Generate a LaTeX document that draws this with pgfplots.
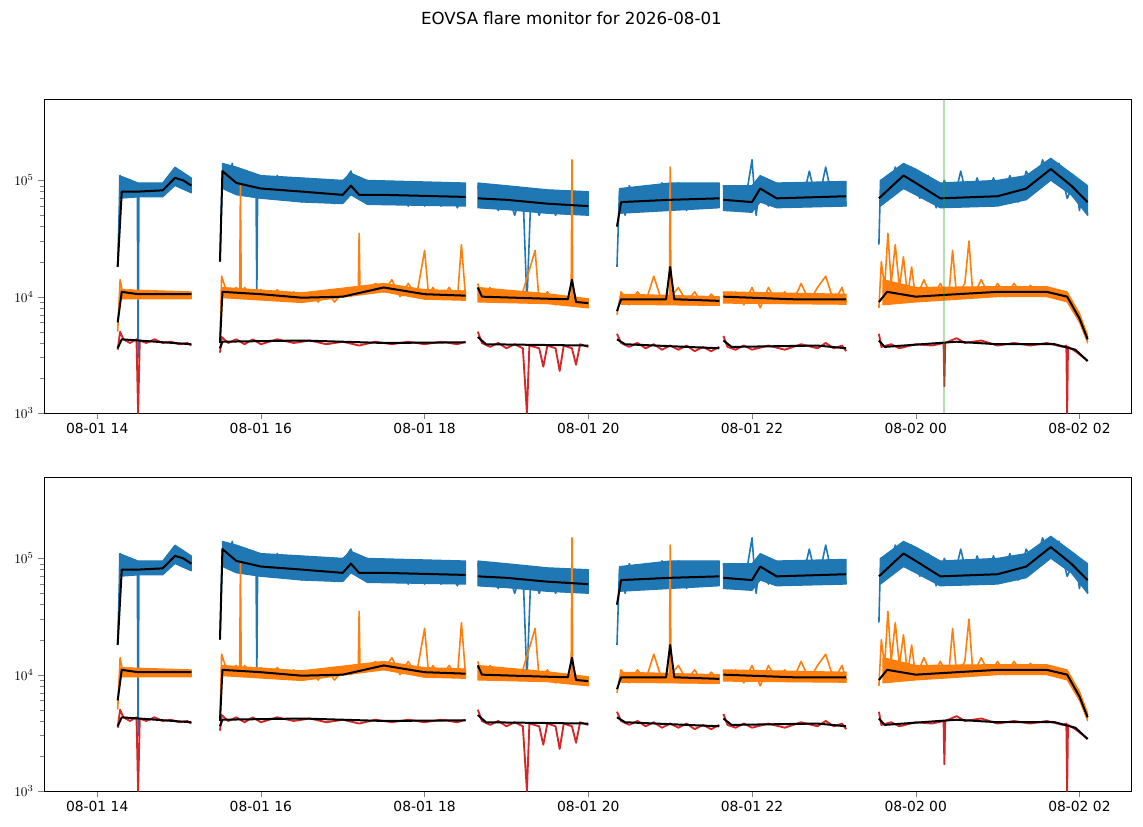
\documentclass[border=0pt]{standalone}
\usepackage{pgfplots}
\pgfplotsset{compat=1.18}
\usepackage{pgfplotstable}
\usepackage{fontspec}
\setmainfont{DejaVu Sans}
\definecolor{cA}{HTML}{1F77B4}
\definecolor{cB}{HTML}{FF7F0E}
\definecolor{cD}{HTML}{D62728}
\definecolor{cG}{HTML}{2CA02C}
\pgfplotstableread[row sep=\\]{x y\\
14.25 1.8e4\\ 14.28 1.1e5\\ 14.3 8e4\\ 14.35 9e4\\ 14.4 7.5e4\\ 14.45 8.8e4\\ 14.49 7.8e4\\ 14.5 3e3\\ 14.51 8e4\\ 14.55 9e4\\ 14.6 7.5e4\\ 14.65 8.5e4\\ 14.7 7.6e4\\ 14.75 8.6e4\\ 14.8 7.8e4\\ 14.85 9e4\\ 14.9 9e4\\ 14.95 1.25e5\\ 15.0 1e5\\ 15.05 1.15e5\\ 15.1 8.5e4\\ 15.15 9.5e4\\ 15.2 nan\\
15.5 2e4\\ 15.53 1.2e5\\ 15.6 9e4\\ 15.65 1.4e5\\ 15.7 8.5e4\\ 15.75 1.2e5\\ 15.8 8e4\\ 15.85 1.1e5\\ 15.9 7.5e4\\ 15.94 9e4\\ 15.95 1e4\\ 15.96 8e4\\ 16.0 1.05e5\\ 16.1 7e4\\ 16.2 1.1e5\\ 16.3 6.8e4\\ 16.4 1.05e5\\ 16.5 6.5e4\\ 16.6 1e5\\ 16.7 6.5e4\\ 16.8 1e5\\ 16.9 6.3e4\\ 17.0 9.5e4\\ 17.1 1.2e5\\ 17.2 7e4\\ 17.3 1e5\\ 17.4 6.3e4\\ 17.5 9.5e4\\ 17.6 6.2e4\\ 17.7 9.5e4\\ 17.8 6e4\\ 17.9 9.5e4\\ 18.0 6e4\\ 18.1 9.3e4\\ 18.2 6e4\\ 18.3 9e4\\ 18.4 5.8e4\\ 18.5 9e4\\ 18.55 nan\\
18.65 9e4\\ 18.7 5.8e4\\ 18.8 9e4\\ 18.9 5.5e4\\ 19.0 8.5e4\\ 19.1 5e4\\ 19.2 8.5e4\\ 19.25 9e3\\ 19.3 8e4\\ 19.4 5e4\\ 19.5 8e4\\ 19.6 5e4\\ 19.7 8e4\\ 19.8 5.3e4\\ 19.9 8e4\\ 20.0 5e4\\ 20.05 nan\\
20.35 1.8e4\\ 20.38 8e4\\ 20.45 5e4\\ 20.5 9e4\\ 20.6 5.5e4\\ 20.7 9e4\\ 20.8 5.5e4\\ 20.9 9.5e4\\ 21.0 5.5e4\\ 21.1 9.5e4\\ 21.2 5.5e4\\ 21.3 9e4\\ 21.4 5.8e4\\ 21.5 9e4\\ 21.6 6e4\\ 21.62 nan\\
21.65 9e4\\ 21.7 5.5e4\\ 21.8 9e4\\ 21.9 5.5e4\\ 22.0 1.5e5\\ 22.05 5e4\\ 22.1 9.5e4\\ 22.2 6e4\\ 22.3 9e4\\ 22.4 6e4\\ 22.5 9.5e4\\ 22.6 6e4\\ 22.7 1.2e5\\ 22.8 6e4\\ 22.9 1.3e5\\ 23.0 6e4\\ 23.1 9.5e4\\ 23.15 6e4\\ 23.2 nan\\
23.55 2.8e4\\ 23.57 1e5\\ 23.65 7e4\\ 23.75 1.3e5\\ 23.85 8.5e4\\ 23.95 1.3e5\\ 24.05 7e4\\ 24.15 1.1e5\\ 24.25 5.8e4\\ 24.35 1e5\\ 24.45 6e4\\ 24.55 1.2e5\\ 24.65 6e4\\ 24.75 1.05e5\\ 24.85 6.2e4\\ 24.95 1.05e5\\ 25.05 6.5e4\\ 25.15 1.1e5\\ 25.25 6.5e4\\ 25.35 1.2e5\\ 25.45 8.5e4\\ 25.55 1.5e5\\ 25.65 1e5\\ 25.75 1.4e5\\ 25.85 7e4\\ 25.95 1e5\\ 26.0 5.5e4\\ 26.05 9e4\\ 26.1 5e4\\
}\blue
\pgfplotstableread[row sep=\\]{x y\\
14.27 1.1e5\\ 14.5 9.5e4\\ 14.8 9.5e4\\ 14.95 1.3e5\\ 15.15 1.05e5\\ 15.15 7.8e4\\ 14.95 9e4\\ 14.8 7.2e4\\ 14.5 7.2e4\\ 14.27 7e4\\ 14.27 1.1e5\\ 14.28 nan\\
15.53 1.4e5\\ 15.7 1.3e5\\ 16.0 1.1e5\\ 16.5 1.05e5\\ 17.0 1e5\\ 17.1 1.15e5\\ 17.3 1e5\\ 18.5 9.5e4\\ 18.5 6e4\\ 17.3 6.2e4\\ 17.1 7.5e4\\ 17.0 6.3e4\\ 16.5 6.5e4\\ 16.0 7e4\\ 15.7 7.5e4\\ 15.53 8.5e4\\ 15.53 1.4e5\\ 15.54 nan\\
18.65 9.5e4\\ 19.0 9e4\\ 19.5 8.3e4\\ 20.0 8e4\\ 20.0 5e4\\ 19.5 5.2e4\\ 19.0 5.6e4\\ 18.65 5.8e4\\ 18.65 9.5e4\\ 18.66 nan\\
20.38 8.5e4\\ 21.0 9.5e4\\ 21.6 9.5e4\\ 21.6 5.8e4\\ 21.0 5.5e4\\ 20.38 5.2e4\\ 20.38 8.5e4\\ 20.39 nan\\
21.65 9e4\\ 22.0 9e4\\ 22.1 1.1e5\\ 22.3 9.5e4\\ 23.15 9.8e4\\ 23.15 6e4\\ 22.3 5.8e4\\ 22.1 6.5e4\\ 22.0 5.3e4\\ 21.65 5.5e4\\ 21.65 9e4\\ 21.66 nan\\
23.57 1e5\\ 23.85 1.4e5\\ 24.0 1.25e5\\ 24.3 9.5e4\\ 25.0 1e5\\ 25.35 1.1e5\\ 25.65 1.55e5\\ 25.9 1.15e5\\ 26.1 9e4\\ 26.1 5e4\\ 25.9 7.5e4\\ 25.65 1e5\\ 25.35 6.8e4\\ 25.0 6e4\\ 24.3 5.8e4\\ 24.0 7.5e4\\ 23.85 8.5e4\\ 23.57 6e4\\ 23.57 1e5\\
}\bband
\pgfplotstableread[row sep=\\]{x y\\
14.25 1.8e4\\ 14.3 8e4\\ 14.5 8e4\\ 14.8 8.2e4\\ 14.95 1.05e5\\ 15.05 1e5\\ 15.15 9e4\\ 15.2 nan\\ 15.5 2e4\\ 15.53 1.2e5\\ 15.7 9.5e4\\ 16.0 8.5e4\\ 16.5 8e4\\ 17.0 7.5e4\\ 17.1 9e4\\ 17.2 7.5e4\\ 17.5 7.5e4\\ 18.5 7.2e4\\ 18.55 nan\\ 18.65 7e4\\ 19.0 6.8e4\\ 19.5 6.3e4\\ 20.0 6e4\\ 20.05 nan\\ 20.35 4e4\\ 20.4 6.5e4\\ 21.0 6.8e4\\ 21.6 7e4\\ 21.62 nan\\ 21.65 6.8e4\\ 22.0 6.5e4\\ 22.1 8.5e4\\ 22.3 7e4\\ 23.15 7.3e4\\ 23.2 nan\\ 23.55 7e4\\ 23.85 1.1e5\\ 24.0 9.5e4\\ 24.3 7e4\\ 25.0 7.3e4\\ 25.35 8.5e4\\ 25.65 1.25e5\\ 25.9 9e4\\ 26.1 6.5e4\\
}\kblue
\pgfplotstableread[row sep=\\]{x y\\
14.25 5e3\\ 14.28 1.4e4\\ 14.32 1e4\\ 14.4 1.15e4\\ 14.5 9.5e3\\ 14.6 1.1e4\\ 14.7 1e4\\ 14.8 1.1e4\\ 14.9 1e4\\ 15.0 1.1e4\\ 15.1 1e4\\ 15.15 1.05e4\\ 15.2 nan\\
15.5 4e3\\ 15.52 1.5e4\\ 15.6 1e4\\ 15.7 1.2e4\\ 15.74 1e4\\ 15.75 9e4\\ 15.76 1e4\\ 15.8 1.2e4\\ 15.9 1e4\\ 16.0 1.15e4\\ 16.1 9.5e3\\ 16.2 1.15e4\\ 16.3 9.5e3\\ 16.4 1.1e4\\ 16.5 9e3\\ 16.6 1.05e4\\ 16.7 9e3\\ 16.8 1.1e4\\ 16.9 9e3\\ 17.0 1.1e4\\ 17.1 1e4\\ 17.19 1.2e4\\ 17.2 3.5e4\\ 17.21 1.2e4\\ 17.3 1.15e4\\ 17.4 1.3e4\\ 17.5 1.1e4\\ 17.6 1.4e4\\ 17.7 1e4\\ 17.8 1.3e4\\ 17.9 1e4\\ 18.0 2.5e4\\ 18.05 1e4\\ 18.1 1.2e4\\ 18.2 9.5e3\\ 18.3 1.2e4\\ 18.4 9.5e3\\ 18.45 2.8e4\\ 18.5 1e4\\ 18.55 nan\\
18.65 1.3e4\\ 18.7 9.5e3\\ 18.8 1.2e4\\ 18.9 9e3\\ 19.0 1.1e4\\ 19.1 9e3\\ 19.2 1.1e4\\ 19.35 2.5e4\\ 19.4 9e3\\ 19.5 1.1e4\\ 19.6 8.5e3\\ 19.7 1e4\\ 19.79 9e3\\ 19.8 1.5e5\\ 19.81 9e3\\ 19.9 9.5e3\\ 20.0 8.5e3\\ 20.05 nan\\
20.35 7e3\\ 20.4 1.1e4\\ 20.5 8.5e3\\ 20.6 1.1e4\\ 20.7 9e3\\ 20.8 1.5e4\\ 20.9 9e3\\ 20.99 1e4\\ 21.0 1.3e5\\ 21.01 1e4\\ 21.1 1.2e4\\ 21.2 9e3\\ 21.3 1.1e4\\ 21.4 8.5e3\\ 21.5 1.05e4\\ 21.6 9e3\\ 21.62 nan\\
21.65 1.1e4\\ 21.7 9e3\\ 21.8 1.1e4\\ 21.9 8.5e3\\ 22.0 1.2e4\\ 22.1 8e3\\ 22.2 1.2e4\\ 22.3 9e3\\ 22.4 1.1e4\\ 22.5 9e3\\ 22.6 1.3e4\\ 22.7 9e3\\ 22.8 1.2e4\\ 22.9 1.5e4\\ 23.0 9e3\\ 23.1 1.2e4\\ 23.15 9e3\\ 23.2 nan\\
23.55 8e3\\ 23.58 2e4\\ 23.62 1.2e4\\ 23.66 3.5e4\\ 23.7 1.3e4\\ 23.75 2.8e4\\ 23.8 1.2e4\\ 23.85 2.2e4\\ 23.9 1e4\\ 23.95 1.8e4\\ 24.0 9.5e3\\ 24.1 1.4e4\\ 24.2 9.5e3\\ 24.3 1.3e4\\ 24.4 9.5e3\\ 24.45 2.5e4\\ 24.5 1e4\\ 24.6 1.3e4\\ 24.65 3e4\\ 24.7 1e4\\ 24.8 1.4e4\\ 24.9 1e4\\ 25.0 1.3e4\\ 25.1 1e4\\ 25.2 1.3e4\\ 25.3 1.05e4\\ 25.4 1.25e4\\ 25.5 1.05e4\\ 25.6 1.2e4\\ 25.7 1e4\\ 25.8 1.1e4\\ 25.9 9e3\\ 26.0 7e3\\ 26.05 5.5e3\\ 26.1 4.5e3\\
}\orange
\pgfplotstableread[row sep=\\]{x y\\
14.28 1.15e4\\ 15.15 1.1e4\\ 15.15 9.6e3\\ 14.28 9.6e3\\ 14.28 1.15e4\\ 14.29 nan\\
15.53 1.2e4\\ 16.5 1.08e4\\ 17.5 1.3e4\\ 18.0 1.15e4\\ 18.5 1.12e4\\ 18.5 9.3e3\\ 18.0 9.5e3\\ 17.5 1.1e4\\ 16.5 8.9e3\\ 15.53 9.8e3\\ 15.53 1.2e4\\ 15.54 nan\\
18.65 1.2e4\\ 19.5 1.06e4\\ 20.0 9.6e3\\ 20.0 8e3\\ 19.5 8.7e3\\ 18.65 9e3\\ 18.65 1.2e4\\ 18.66 nan\\
20.4 1.05e4\\ 21.6 1e4\\ 21.6 8.4e3\\ 20.4 8.6e3\\ 20.4 1.05e4\\ 20.41 nan\\
21.65 1.1e4\\ 23.15 1.05e4\\ 23.15 8.6e3\\ 21.65 8.8e3\\ 21.65 1.1e4\\ 21.66 nan\\
23.6 1.4e4\\ 24.0 1.2e4\\ 25.0 1.22e4\\ 25.6 1.22e4\\ 25.85 1.1e4\\ 26.0 7.2e3\\ 26.1 4.7e3\\ 26.1 4e3\\ 26.0 6e3\\ 25.85 9e3\\ 25.6 1e4\\ 25.0 1e4\\ 24.0 9e3\\ 23.6 8.5e3\\ 23.6 1.4e4\\
}\oband
\pgfplotstableread[row sep=\\]{x y\\
14.25 6e3\\ 14.3 1.1e4\\ 14.5 1.05e4\\ 15.15 1.05e4\\ 15.2 nan\\ 15.5 4e3\\ 15.53 1.1e4\\ 16.0 1.05e4\\ 16.5 9.8e3\\ 17.0 1e4\\ 17.5 1.2e4\\ 18.0 1.05e4\\ 18.5 1.02e4\\ 18.55 nan\\ 18.65 1.2e4\\ 18.7 1e4\\ 19.5 9.6e3\\ 19.75 9.5e3\\ 19.8 1.4e4\\ 19.85 9e3\\ 20.0 8.8e3\\ 20.05 nan\\ 20.35 7.5e3\\ 20.4 9.5e3\\ 20.95 9.5e3\\ 21.0 1.8e4\\ 21.05 9.5e3\\ 21.6 9.2e3\\ 21.62 nan\\ 21.65 1e4\\ 22.5 9.5e3\\ 23.15 9.5e3\\ 23.2 nan\\ 23.55 9e3\\ 23.65 1.1e4\\ 24.0 1e4\\ 24.5 1.05e4\\ 25.0 1.1e4\\ 25.6 1.1e4\\ 25.85 1e4\\ 26.0 6.5e3\\ 26.1 4.3e3\\
}\korange
\pgfplotstableread[row sep=\\]{x y\\
14.25 3.5e3\\ 14.28 5e3\\ 14.32 4.3e3\\ 14.4 4e3\\ 14.48 4.3e3\\ 14.5 1e3\\ 14.52 4.2e3\\ 14.6 4e3\\ 14.7 4.3e3\\ 14.8 4e3\\ 14.9 4.1e3\\ 15.0 3.9e3\\ 15.1 4e3\\ 15.15 3.8e3\\ 15.2 nan\\
15.5 3.3e3\\ 15.52 4.5e3\\ 15.6 4e3\\ 15.7 4.3e3\\ 15.8 3.9e3\\ 15.9 4.3e3\\ 16.0 3.9e3\\ 16.2 4.3e3\\ 16.4 4e3\\ 16.6 4.2e3\\ 16.8 3.9e3\\ 17.0 4.1e3\\ 17.2 3.8e3\\ 17.4 4.1e3\\ 17.6 3.9e3\\ 17.8 4.1e3\\ 18.0 3.9e3\\ 18.2 4.1e3\\ 18.4 3.9e3\\ 18.5 4.1e3\\ 18.55 nan\\
18.65 5e3\\ 18.7 4e3\\ 18.8 3.7e3\\ 18.9 4e3\\ 19.0 3.6e3\\ 19.1 3.9e3\\ 19.2 3.6e3\\ 19.25 1e3\\ 19.28 3.8e3\\ 19.4 3.6e3\\ 19.45 2.5e3\\ 19.5 3.8e3\\ 19.6 3.6e3\\ 19.65 2.3e3\\ 19.7 3.8e3\\ 19.8 3.6e3\\ 19.85 2.6e3\\ 19.9 3.9e3\\ 20.0 3.7e3\\ 20.05 nan\\
20.35 4.8e3\\ 20.4 4e3\\ 20.5 3.7e3\\ 20.6 4e3\\ 20.7 3.6e3\\ 20.8 3.9e3\\ 20.9 3.5e3\\ 21.0 3.8e3\\ 21.1 3.5e3\\ 21.2 3.8e3\\ 21.3 3.4e3\\ 21.4 3.7e3\\ 21.5 3.4e3\\ 21.6 3.7e3\\ 21.62 nan\\
21.65 4.6e3\\ 21.7 3.7e3\\ 21.8 3.5e3\\ 21.9 3.8e3\\ 22.0 3.5e3\\ 22.2 3.8e3\\ 22.4 3.5e3\\ 22.6 3.9e3\\ 22.8 3.6e3\\ 22.9 4e3\\ 23.0 3.6e3\\ 23.1 3.8e3\\ 23.15 3.4e3\\ 23.2 nan\\
23.55 4.8e3\\ 23.58 3.7e3\\ 23.7 3.9e3\\ 23.8 3.6e3\\ 24.0 3.9e3\\ 24.2 3.8e3\\ 24.34 4e3\\ 24.35 1.7e3\\ 24.36 4e3\\ 24.5 4.4e3\\ 24.6 4e3\\ 24.8 4.2e3\\ 25.0 3.8e3\\ 25.2 4e3\\ 25.4 3.8e3\\ 25.6 4e3\\ 25.8 3.7e3\\ 25.84 3.8e3\\ 25.85 1e3\\ 25.86 3.7e3\\ 25.95 3.4e3\\ 26.05 3e3\\ 26.1 2.8e3\\
}\red
\pgfplotstableread[row sep=\\]{x y\\
14.25 3.6e3\\ 14.3 4.3e3\\ 15.15 3.9e3\\ 15.2 nan\\ 15.5 3.6e3\\ 15.53 4.1e3\\ 16.5 4.2e3\\ 17.5 4e3\\ 18.5 4.05e3\\ 18.55 nan\\ 18.65 4.5e3\\ 18.75 3.9e3\\ 20.0 3.8e3\\ 20.05 nan\\ 20.35 4.3e3\\ 20.45 3.9e3\\ 21.6 3.6e3\\ 21.62 nan\\ 21.65 4.2e3\\ 21.75 3.7e3\\ 22.8 3.8e3\\ 23.15 3.6e3\\ 23.2 nan\\ 23.55 4.2e3\\ 23.62 3.7e3\\ 24.5 4.1e3\\ 25.0 3.9e3\\ 25.7 3.9e3\\ 25.95 3.5e3\\ 26.1 2.8e3\\
}\kred
\pgfplotsset{
  every axis/.append style={xmin=13.35, xmax=26.63,
    width=815.25pt, height=235.5pt, scale only axis, anchor=north west,
    xtick={14,16,18,20,22,24,26},
    xticklabels={08-01 14,08-01 16,08-01 18,08-01 20,08-01 22,08-02 00,08-02 02},
    ytick={1e3,1e4,1e5}, tick align=outside, xtick pos=bottom, ytick pos=left,
    tick label style={font=\fontsize{10.4}{12}\selectfont},
    unbounded coords=jump, axis line style={line width=0.6pt}},
  every axis plot/.append style={no markers, line join=round},
}
\newcommand\series{%
\addplot[fill=cA, draw=cA, line width=0.8pt] table {\bband};
\addplot[cA, line width=1.2pt] table {\blue};
\addplot[fill=cB, draw=cB, line width=0.8pt] table {\oband};
\addplot[cB, line width=1.2pt] table {\orange};
\addplot[cD, line width=1.4pt] table {\red};
\addplot[black, line width=1.5pt] table {\kblue};
\addplot[black, line width=1.5pt] table {\korange};
\addplot[black, line width=1.5pt] table {\kred};
}
\begin{document}
\begin{tikzpicture}
\path (0,0) rectangle (857.25pt,-619.5pt);
\node[font=\fontsize{12.5}{14}\selectfont] at (428.6pt,-13.5pt) {EOVSA flare monitor for 2026-08-01};
\begin{axis}[ymode=log, ymin=1e3, ymax=5e5, at={(33pt,-74.25pt)}]
\series
\addplot[cG, opacity=0.35, line width=1.5pt] coordinates {(24.35,1e3)(24.35,5e5)};
\end{axis}
\begin{axis}[ymode=log, ymin=1e3, ymax=5e5, at={(33pt,-357.75pt)}]
\series
\end{axis}
\end{tikzpicture}
\end{document}
